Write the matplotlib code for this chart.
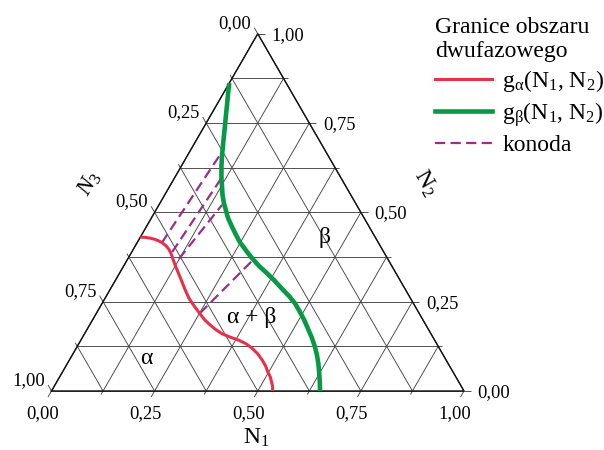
import numpy as np
import matplotlib
matplotlib.use("Agg")
import matplotlib.pyplot as plt
from matplotlib.lines import Line2D

plt.rcParams['font.family'] = ['Liberation Serif', 'DejaVu Serif']
plt.rcParams['mathtext.fontset'] = 'custom'
plt.rcParams['mathtext.rm'] = 'Liberation Serif'
plt.rcParams['mathtext.it'] = 'Liberation Serif:italic'
plt.rcParams['mathtext.default'] = 'regular'

# Boundary of the alpha phase, g_alpha(N1, N2)
alpha_n1 = [0.000, 0.012, 0.025, 0.037, 0.048, 0.061, 0.075, 0.087, 0.098,
            0.110, 0.123, 0.140, 0.159, 0.180, 0.203, 0.228, 0.252, 0.272,
            0.292, 0.312, 0.334, 0.357, 0.381, 0.404, 0.426, 0.448, 0.467,
            0.484, 0.498, 0.511, 0.521, 0.530, 0.536]
alpha_n2 = [0.431, 0.430, 0.428, 0.425, 0.421, 0.415, 0.406, 0.396, 0.384,
            0.369, 0.353, 0.333, 0.311, 0.286, 0.260, 0.237, 0.216, 0.199,
            0.185, 0.172, 0.160, 0.151, 0.143, 0.133, 0.120, 0.104, 0.087,
            0.070, 0.053, 0.039, 0.025, 0.012, 0.000]

# Boundary of the beta phase, g_beta(N1, N2)
beta_n1 = [0.000, 0.012, 0.025, 0.039, 0.054, 0.068, 0.083, 0.097, 0.114,
           0.128, 0.140, 0.155, 0.169, 0.186, 0.203, 0.224, 0.248, 0.273,
           0.300, 0.328, 0.357, 0.386, 0.416, 0.444, 0.469, 0.492, 0.513,
           0.534, 0.555, 0.575, 0.593, 0.609, 0.624, 0.638, 0.651]
beta_n2 = [0.862, 0.832, 0.801, 0.767, 0.731, 0.697, 0.661, 0.630, 0.596,
           0.571, 0.549, 0.526, 0.507, 0.484, 0.465, 0.442, 0.417, 0.395,
           0.372, 0.350, 0.330, 0.309, 0.286, 0.265, 0.244, 0.221, 0.199,
           0.175, 0.151, 0.126, 0.101, 0.076, 0.050, 0.025, 0.000]

# Tie lines (konody): alpha-side and beta-side compositions
tie_alpha_n1 = [0.060, 0.098, 0.124, 0.251]
tie_alpha_n2 = [0.415, 0.389, 0.370, 0.218]
tie_beta_n1 = [0.078, 0.114, 0.153, 0.304]
tie_beta_n2 = [0.661, 0.596, 0.521, 0.364]

tick_values = [0.00, 0.25, 0.50, 0.75, 1.00]
tick_labels = ['0,00', '0,25', '0,50', '0,75', '1,00']
grid_steps = 8

RED = '#e8304a'
GREEN = '#079a44'
PURPLE = '#9b2d8f'
TIE_DASHES = (4.6, 2.4)

W, H = 604, 450
OX, OY, SIDE = 51.5, 391.0, 412.5   # triangle origin and side in pixels
S3 = np.sqrt(3) / 2


def to_xy(n1, n2):
    n1 = np.asarray(n1, float)
    n2 = np.asarray(n2, float)
    return n1 + n2 / 2, n2 * S3


def px(v):
    return v / SIDE


fig = plt.figure(figsize=(W / 100, H / 100), dpi=100)
fig.patch.set_facecolor('white')
ax = fig.add_axes([0, 0, 1, 1])
ax.set_xlim(-OX / SIDE, (W - OX) / SIDE)
ax.set_ylim((OY - H) / SIDE, OY / SIDE)
ax.axis('off')

grid_kw = dict(color='#444444', lw=0.65, zorder=1, solid_capstyle='butt')
major_len, minor_len = px(7), px(4)

# grid lines with short tick extensions on the labelled side
for k in range(grid_steps + 1):
    v = k / grid_steps
    t = major_len if k % 2 == 0 else minor_len
    # constant N2 (horizontal), tick to the right
    x0, y0 = to_xy(0, v)
    x1, y1 = to_xy(1 - v, v)
    ax.plot([x0, x1 + t], [y0, y1], **grid_kw)
    # constant N1, tick below the base (down-left)
    x0, y0 = to_xy(v, 0)
    x1, y1 = to_xy(v, 1 - v)
    ax.plot([x0 - 0.5 * t, x1], [y0 - S3 * t, y1], **grid_kw)
    # constant N3, tick beyond the left edge (up-left)
    x0, y0 = to_xy(0, 1 - v)
    x1, y1 = to_xy(1 - v, 0)
    ax.plot([x0 - 0.5 * t, x1], [y0 + S3 * t, y1], **grid_kw)

# triangle outline
tx, ty = to_xy([0, 1, 0, 0], [0, 0, 1, 0])
ax.plot(tx, ty, color='#111111', lw=1.05, zorder=2, solid_joinstyle='miter')

# tick labels
for v, lab in zip(tick_values, tick_labels):
    bx, by = to_xy(v, 0)
    ax.text(bx - px(9), by - px(27), lab, fontsize=13.3, ha='center', va='baseline')
    rx, ry = to_xy(1 - v, v)
    ax.text(rx + px(13.5), ry - px(6), lab, fontsize=13.3, ha='left', va='baseline')
    lx, ly = to_xy(0, 1 - v)
    ax.text(lx - px(6.5), ly + px(6), lab, fontsize=13.3, ha='right', va='baseline')

# axis titles
ax.text(px(256.5 - OX), px(OY - 444), r'N$_1$', fontsize=17, ha='center', va='baseline')
ax.text(px(425 - OX), px(OY - 183), r'N$_2$', fontsize=17, ha='center', va='center',
        rotation=-60, rotation_mode='anchor')
ax.text(px(90 - OX), px(OY - 183), r'$\mathit{N}_3$', fontsize=17, ha='center', va='center',
        rotation=60, rotation_mode='anchor')

# phase boundaries
ax_, ay_ = to_xy(alpha_n1, alpha_n2)
ax.plot(ax_, ay_, color=RED, lw=2.2, zorder=4, solid_capstyle='butt',
        solid_joinstyle='round')
bx_, by_ = to_xy(beta_n1, beta_n2)
ax.plot(bx_, by_, color=GREEN, lw=3.3, zorder=4, solid_capstyle='butt',
        solid_joinstyle='round')

# tie lines
for a1, a2, b1, b2 in zip(tie_alpha_n1, tie_alpha_n2, tie_beta_n1, tie_beta_n2):
    xs, ys = to_xy([a1, b1], [a2, b2])
    ax.plot(xs, ys, color=PURPLE, lw=1.6, dashes=TIE_DASHES, zorder=3)

# region labels
ax.text(px(146 - OX), px(OY - 358), 'α', fontsize=17, ha='center', va='center')
ax.text(px(252 - OX), px(OY - 318), 'α + β', fontsize=17, ha='center', va='center')
ax.text(px(325 - OX), px(OY - 238), 'β', fontsize=17, ha='center', va='center')

handles = [
    Line2D([], [], color=RED, lw=2.2),
    Line2D([], [], color=GREEN, lw=3.3),
    Line2D([], [], color=PURPLE, lw=1.6, dashes=TIE_DASHES),
]
labels = [r'g$_\alpha$(N$_1$, N$_2$)', r'g$_\beta$(N$_1$, N$_2$)', 'konoda']
leg = ax.legend(handles, labels, title='Granice obszaru\ndwufazowego',
                loc='upper left', bbox_to_anchor=(435 / W, 1 - 17 / H),
                bbox_transform=fig.transFigure, frameon=False,
                fontsize=17, title_fontsize=17, alignment='left',
                handlelength=2.4, handletextpad=0.45, labelspacing=0.25,
                borderpad=0, borderaxespad=0)

fig.savefig('out.png', dpi=100, facecolor='white')
